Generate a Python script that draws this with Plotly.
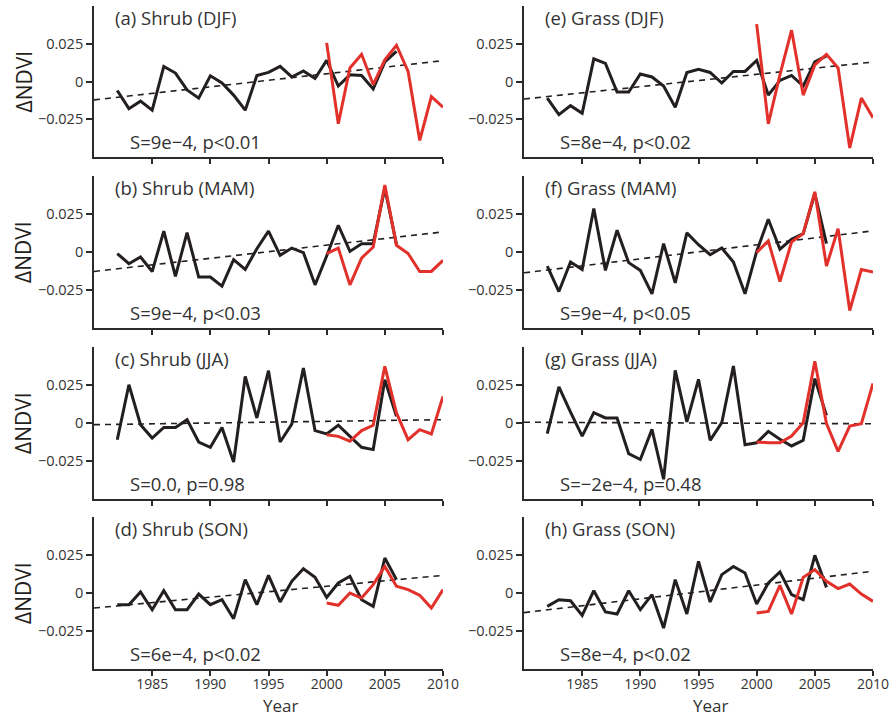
import plotly.graph_objects as go

years_black = list(range(1982, 2007))
years_red = list(range(2000, 2011))
trend_years = [1980, 2010]

panel_titles = ["(a) Shrub (DJF)", "(b) Shrub (MAM)", "(c) Shrub (JJA)", "(d) Shrub (SON)",
                "(e) Grass (DJF)", "(f) Grass (MAM)", "(g) Grass (JJA)", "(h) Grass (SON)"]
panel_stats = ["S=9e\u22124, p<0.01", "S=9e\u22124, p<0.03", "S=0.0, p=0.98", "S=6e\u22124, p<0.02",
               "S=8e\u22124, p<0.02", "S=9e\u22124, p<0.05", "S=\u22122e\u22124, p=0.48", "S=8e\u22124, p<0.02"]

# Black series (1982-2006)
shrub_djf = [-0.006, -0.018, -0.013, -0.019, 0.010, 0.0056, -0.0056, -0.011, 0.0038, -0.001, -0.009, -0.019, 0.004,
             0.006, 0.010, 0.003, 0.007, 0.002, 0.014, -0.003, 0.0044, 0.004, -0.005, 0.013, 0.020]
shrub_mam = [-0.001, -0.0077, -0.0033, -0.0128, 0.0137, -0.016, 0.0128, -0.0165, -0.0165, -0.0225, -0.005, -0.0115,
             0.0022, 0.0137, -0.0022, 0.0026, -0.0004, -0.0216, -0.0026, 0.0176, 0.0004, 0.0055, 0.0055, 0.042, 0.005]
shrub_jja = [-0.011, 0.0252, -0.0011, -0.0099, -0.0029, -0.0029, 0.0022, -0.0125, -0.016, -0.0029, -0.0257, 0.0307,
             0.0033, 0.0344, -0.0125, -0.0007, 0.0362, -0.005, -0.0072, -0.0015, -0.0088, -0.016, -0.0175, 0.0285, 0.0044]
shrub_son = [-0.0077, -0.0077, 0.0007, -0.011, 0.0015, -0.011, -0.011, -0.0007, -0.0077, -0.0044, -0.0169, 0.0088,
             -0.0077, 0.0116, -0.0059, 0.0077, 0.016, 0.0103, -0.0029, 0.0066, 0.011, -0.0044, -0.0088, 0.023, 0.0088]
grass_djf = [-0.011, -0.022, -0.016, -0.021, 0.015, 0.012, -0.007, -0.007, 0.005, 0.003, -0.003, -0.017, 0.006,
             0.008, 0.006, -0.001, 0.0067, 0.0067, 0.014, -0.009, 0.0007, 0.004, -0.003, 0.013, 0.017]
grass_mam = [-0.0093, -0.026, -0.0066, -0.0115, 0.0286, -0.0121, 0.0143, -0.007, -0.0121, -0.0275, 0.0055, -0.0203,
             0.0126, 0.0048, -0.0018, 0.0026, -0.0066, -0.0275, 0.0004, 0.0216, 0.0018, 0.0084, 0.0121, 0.0385, 0.0055]
grass_jja = [-0.007, 0.0237, 0.0072, -0.0086, 0.0068, 0.0033, 0.0033, -0.0202, -0.024, -0.0042, -0.037, 0.0346,
             0.0007, 0.0287, -0.0114, 0.0002, 0.0375, -0.0143, -0.013, -0.0055, -0.0107, -0.0151, -0.0114, 0.0292, 0.005]
grass_son = [-0.0088, -0.0044, -0.0051, -0.0147, 0.0015, -0.0125, -0.0138, 0.0015, -0.011, -0.0011, -0.0231, 0.0088,
             -0.0138, 0.0208, -0.0059, 0.0121, 0.0175, 0.0132, -0.0072, 0.0066, 0.0138, -0.0011, -0.0044, 0.0248, 0.0037]

# Red series (2000-2010)
shrub_djf_red = [0.0256, -0.028, 0.009, 0.018, -0.002, 0.0144, 0.024, 0.0067, -0.039, -0.010, -0.017]
shrub_mam_red = [-0.001, 0.0026, -0.0216, -0.004, 0.0033, 0.044, 0.0044, -0.001, -0.0128, -0.0128, -0.0055]
shrub_jja_red = [-0.0077, -0.0088, -0.012, -0.005, -0.0015, 0.0373, 0.0066, -0.011, -0.0044, -0.0072, 0.0175]
shrub_son_red = [-0.0066, -0.0081, 0.0, -0.0033, 0.0055, 0.0175, 0.0044, 0.0022, -0.0015, -0.0099, 0.0022]
grass_djf_red = [0.038, -0.028, 0.0044, 0.034, -0.009, 0.011, 0.018, 0.009, -0.044, -0.011, -0.024]
grass_mam_red = [-0.0004, 0.0073, -0.0194, 0.0066, 0.0121, 0.0396, -0.0093, 0.0154, -0.0385, -0.0115, -0.0132]
grass_jja_red = [-0.0125, -0.013, -0.013, -0.0086, 0.0002, 0.0406, -0.0004, -0.0187, -0.002, -0.0004, 0.026]
grass_son_red = [-0.0132, -0.0121, 0.005, -0.0138, 0.0103, 0.0154, 0.0077, 0.0029, 0.0059, -0.0007, -0.0055]

# Trend line values at 1980 and 2010
trend_start = [-0.0122, -0.0128, -0.0011, -0.0099, -0.0116, -0.0137, 0.0005, -0.0129]
trend_end = [0.0138, 0.0132, 0.0022, 0.0116, 0.0129, 0.0139, -0.0005, 0.0143]

black_series = [shrub_djf, shrub_mam, shrub_jja, shrub_son, grass_djf, grass_mam, grass_jja, grass_son]
red_series = [shrub_djf_red, shrub_mam_red, shrub_jja_red, shrub_son_red,
              grass_djf_red, grass_mam_red, grass_jja_red, grass_son_red]

x_ticks = [1985, 1990, 1995, 2000, 2005, 2010]
y_ticks = [-0.025, 0, 0.025]
y_tick_text = ["\u22120.025", "0", "0.025"]

# ---- layout geometry ----
W, H = 896, 717
ML, MR, MT, MB = 94, 23, 6, 48
PW, PH = W - ML - MR, H - MT - MB


def px(xpix):
    return (xpix - ML) / PW


def py(ypix):
    return (H - MB - ypix) / PH


col_dom = [[0, px(443)], [px(524), 1]]
row_pix = [(6, 157), (176, 328), (347, 499), (517, 669)]
row_dom = [[py(b), py(t)] for t, b in row_pix]

FONT = "Open Sans"
INK = "#231f20"
RED = "#e2312b"
AX = "#2b2b2b"
TXT = "#333333"

fig = go.Figure()
layout = dict(
    width=W, height=H, margin=dict(l=ML, r=MR, t=MT, b=MB),
    plot_bgcolor="white", paper_bgcolor="white", showlegend=False,
    font=dict(family=FONT, color=INK),
)
annotations = []

for i in range(8):
    col = i // 4
    row = i % 4
    n = i + 1
    xa = "x" if n == 1 else f"x{n}"
    ya = "y" if n == 1 else f"y{n}"
    fig.add_trace(go.Scatter(x=trend_years, y=[trend_start[i], trend_end[i]], mode="lines",
                             line=dict(color=INK, width=1.6, dash="6px,5px"), xaxis=xa, yaxis=ya,
                             hoverinfo="skip"))
    fig.add_trace(go.Scatter(x=years_black, y=black_series[i], mode="lines",
                             line=dict(color=INK, width=3), xaxis=xa, yaxis=ya))
    fig.add_trace(go.Scatter(x=years_red, y=red_series[i], mode="lines",
                             line=dict(color=RED, width=3), xaxis=xa, yaxis=ya))

    layout["xaxis" if n == 1 else f"xaxis{n}"] = dict(
        domain=col_dom[col], anchor=ya, range=[1980, 2010], tickvals=x_ticks,
        showticklabels=(row == 3), ticks="outside", ticklen=5, tickwidth=1.5, tickcolor=AX,
        showline=True, linecolor=AX, linewidth=1.8, showgrid=False, zeroline=False,
        tickfont=dict(size=14, family=FONT, color=TXT), ticklabelstandoff=-4,
    )
    layout["yaxis" if n == 1 else f"yaxis{n}"] = dict(
        domain=row_dom[row], anchor=xa, range=[-0.05, 0.05], tickvals=y_ticks, ticktext=y_tick_text,
        ticks="outside", ticklen=6, tickwidth=1.5, tickcolor=AX,
        showline=True, linecolor=AX, linewidth=1.8, showgrid=False, zeroline=False,
        tickfont=dict(size=14.5, family=FONT, color=TXT),
    )
    annotations.append(dict(text=panel_titles[i], xref=f"{xa} domain", yref=f"{ya} domain",
                            x=0.054, y=0.925, xanchor="left", yanchor="middle", showarrow=False,
                            font=dict(size=18.5, family=FONT, color=TXT)))
    annotations.append(dict(text=panel_stats[i], xref=f"{xa} domain", yref=f"{ya} domain",
                            x=0.098, y=0.103, xanchor="left", yanchor="middle", showarrow=False,
                            font=dict(size=18.5, family=FONT, color=TXT)))

for row in range(4):
    t, b = row_pix[row]
    annotations.append(dict(text="\u0394NDVI", xref="paper", yref="paper", x=px(23), y=py((t + b) / 2),
                            xanchor="center", yanchor="middle", textangle=-90, showarrow=False,
                            font=dict(size=21, family=FONT, color=INK)))

for xc in (280, 710):
    annotations.append(dict(text="Year", xref="paper", yref="paper", x=px(xc), y=py(705.5),
                            xanchor="center", yanchor="middle", showarrow=False, borderpad=0,
                            font=dict(size=17, family=FONT, color=TXT)))

layout["annotations"] = annotations
fig.update_layout(**layout)
fig.write_html("out.html", config={"displayModeBar": False},
               post_script="document.body.style.margin='0';document.body.style.padding='0';"
                           "document.body.style.overflow='hidden';")
